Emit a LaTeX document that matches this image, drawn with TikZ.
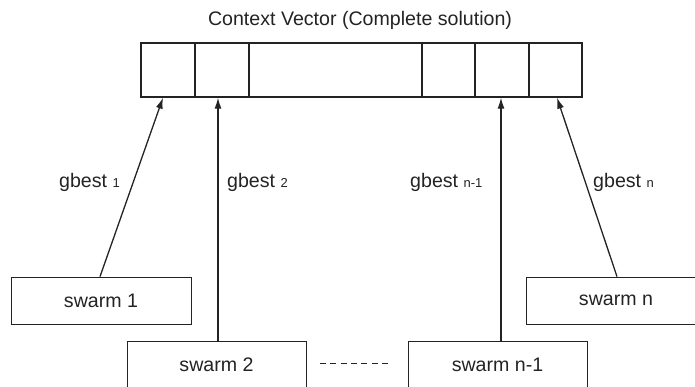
\documentclass[tikz,border=0pt]{standalone}
\usepackage{fontspec}
\setmainfont{Liberation Sans}
\usetikzlibrary{arrows.meta}
\definecolor{ink}{HTML}{232323}
\tikzset{
  cell/.style={draw=ink, line width=1.4pt, inner sep=0pt, minimum height=54pt},
  swarmbox/.style={draw=ink, line width=0.8pt, inner sep=0pt, minimum width=180pt, minimum height=47pt, font=\fontsize{19.6}{23}\selectfont, text=ink},
  arr/.style={draw=ink, line width=1.3pt, -{Latex[length=11pt,width=7pt]}},
  lbl/.style={anchor=west, inner sep=0pt, font=\fontsize{19.6}{23}\selectfont, text=ink},
  dashline/.style={draw=ink, line width=1.2pt, dash pattern=on 6pt off 4.3pt}
}
\newcommand{\subsz}[1]{{\fontsize{13}{15}\selectfont #1}}
\begin{document}
\begin{tikzpicture}[x=1pt,y=-1pt]
\useasboundingbox (0,0) rectangle (695,387);
% title
\node[font=\fontsize{19.6}{23}\selectfont, text=ink, inner sep=0pt] (title) at (360,20) {Context Vector (Complete solution)};
% context vector cells
\node[cell, minimum width=54pt] (c1) at (168,70) {};
\node[cell, minimum width=54pt] (c2) at (222,70) {};
\node[cell, minimum width=173pt] (c3) at (335.5,70) {};
\node[cell, minimum width=53pt] (c4) at (448.5,70) {};
\node[cell, minimum width=54pt] (c5) at (502,70) {};
\node[cell, minimum width=53pt] (c6) at (555.5,70) {};
% swarms
\node[swarmbox] (s1) at (101,300.5) {swarm 1};
\node[swarmbox, minimum width=179pt] (s2) at (216.5,364.5) {swarm 2};
\node[swarmbox, minimum width=179pt] (sn1) at (497.5,364.5) {swarm n-1};
\node[swarmbox] (sn) at (616,300.5) {swarm n};
% dashed link
\coordinate (d1) at (320,363.5);
\coordinate (d2) at (392,363.5);
\draw[dashline] (d1) -- (d2);
% arrows
\draw[arr] ([xshift=-1pt]s1.north) -- ([xshift=-5pt]c1.south);
\draw[arr] ([xshift=1.5pt]s2.north) -- ([xshift=-4pt]c2.south);
\draw[arr] ([xshift=3.5pt]sn1.north) -- ([xshift=-1pt]c5.south);
\draw[arr] ([xshift=1pt]sn.north) -- ([xshift=1.5pt]c6.south);
% labels
\node[lbl] (g1) at (59,182) {gbest \subsz{1}};
\node[lbl] (g2) at (227,182) {gbest \subsz{2}};
\node[lbl] (g3) at (410,182) {gbest \subsz{n-1}};
\node[lbl] (g4) at (593,182) {gbest \subsz{n}};
\end{tikzpicture}
\end{document}
